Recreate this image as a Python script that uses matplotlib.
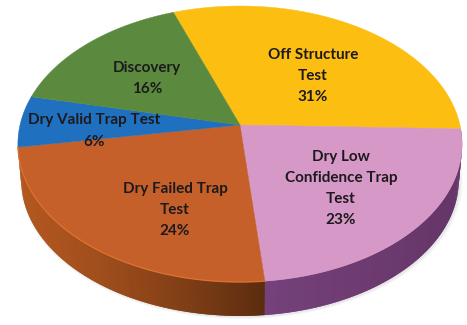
import numpy as np
import matplotlib
matplotlib.use('Agg')
import matplotlib.pyplot as plt
from matplotlib.colors import to_rgb

# slices, clockwise from the off structure edge
names = ['Off Structure\nTest', 'Dry Low\nConfidence Trap\nTest', 'Dry Failed Trap\nTest',
         'Dry Valid Trap Test', 'Discovery']
percents = [31, 23, 24, 6, 16]
top_colors = ['#fdbe12', '#d699c7', '#c6602a', '#1f70bf', '#5b8a3f']
side_left = ['#a87c0a', '#74417a', '#b0561f', '#174f87', '#3f6029']
side_right = ['#a87c0a', '#663567', '#5a2c0f', '#174f87', '#3f6029']

# where the labels sit, in pixels
label_x = [313, 341, 175, 94.5, 147]
label_y = [76, 188.5, 210, 131, 78.5]

start_angle = 110
cx, cy = 240, 144    # middle of the top ellipse
A, B, tilt = 220, 135.4, 0.1377
apex_up = 19
depth = 36


def project(theta, scale=1.0, drop=0.0, r=1.0):
    # circle seen in perspective, so the far half looks smaller
    u = r * np.cos(theta)
    v = r * np.sin(theta)
    w = 1 + tilt * v
    x = cx + scale * A * u / w
    y = cy + drop - scale * (B * v / w + apex_up)
    return x, y


fig = plt.figure(figsize=(4.67, 3.25), dpi=100)
ax = fig.add_axes([0, 0, 1, 1])
ax.set_xlim(0, 467)
ax.set_ylim(325, 0)
ax.axis('off')

fractions = np.array(percents) / sum(percents)
edges = np.radians(start_angle - 360 * np.concatenate([[0], np.cumsum(fractions)]))

# soft shadow under the pie
ring = np.linspace(0, 2 * np.pi, 300)
for grow, alpha in [(1.012, 0.05), (1.006, 0.07), (1.0, 0.10)]:
    sx, sy = project(ring, scale=0.985 * grow, drop=depth + 1.5)
    ax.fill(sx + 1.5, sy, color='#8a8f98', alpha=alpha, lw=0, zorder=1)

# side wall, only the two front slices show one
# strips overlap the next one so no seams show
for i in [1, 2]:
    angles = np.linspace(edges[i], edges[i + 1], 90)
    step = angles[1] - angles[0]
    c0 = np.array(to_rgb(side_left[i]))
    c1 = np.array(to_rgb(side_right[i]))
    for a0 in angles[:-1]:
        a1 = a0 + 2 * step
        x0, y0 = project(a0)
        x1, y1 = project(a1)
        x2, y2 = project(a1, scale=0.985, drop=depth)
        x3, y3 = project(a0, scale=0.985, drop=depth)
        if i == 2:
            t = np.clip(((x0 + x1) / 2 - 30) / 235, 0, 1) ** 1.3
        else:
            t = np.clip(((x0 + x1) / 2 - 268) / 195, 0, 1)
        col = c0 + (c1 - c0) * t
        ax.fill([x0, x1, x2, x3], [y0, y1, y2, y3], color=col, lw=0, zorder=2)

# top face
for i in range(len(percents)):
    angles = np.linspace(edges[i], edges[i + 1], 120)
    x, y = project(angles)
    ax0, ay0 = project(0.0, r=0.0)
    ax.fill(np.r_[ax0, x], np.r_[ay0, y], color=top_colors[i], lw=0.3, zorder=3)

# lighter rim along the front of the orange slice
rim = np.linspace(edges[2], edges[3], 120)
rx, ry = project(rim)
ax.plot(rx, ry, color='#dd7230', lw=0.9, zorder=4)

for name, pct, lx, ly in zip(names, percents, label_x, label_y):
    ax.text(lx, ly, f'{name}\n{pct}%', ha='center', va='center', family='Lato',
            fontweight='bold', fontsize=11, color='#1c1a1c', linespacing=1.66, zorder=5)

fig.savefig('out.png', dpi=100)
